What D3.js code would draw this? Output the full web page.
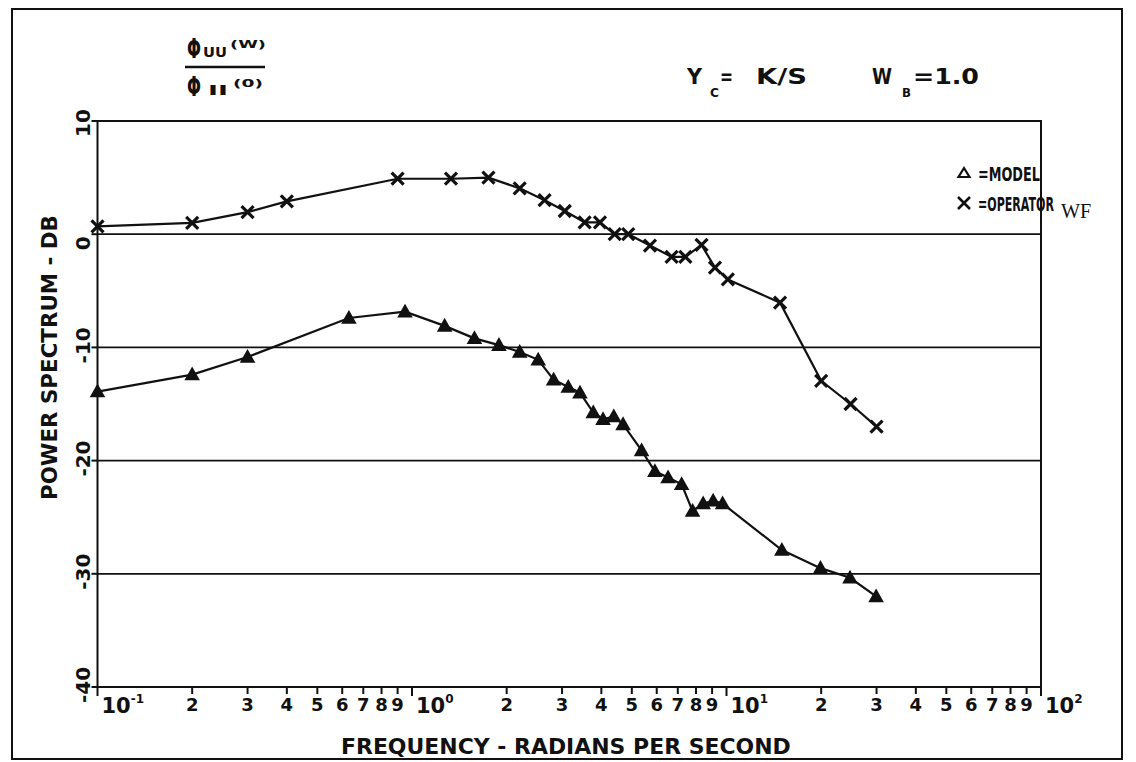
<!DOCTYPE html>
<html>
<head>
<meta charset="utf-8">
<script src="https://cdn.jsdelivr.net/npm/d3@7"></script>
<style>
  body { margin: 0; background: #fff; }
  svg text { font-family: "DejaVu Sans", sans-serif; font-weight: bold; fill: #111; }
</style>
</head>
<body>
<svg id="chart" width="1136" height="762"></svg>
<script>
// Model prediction (triangles): frequency in rad/s, power spectrum in dB
const modelFreq = [0.1, 0.2, 0.3, 0.63, 0.95, 1.27, 1.58, 1.89, 2.2, 2.52, 2.82, 3.14, 3.42, 3.77, 4.05, 4.38, 4.69, 5.37, 5.92, 6.52, 7.2, 7.8, 8.43, 9.07, 9.72, 15.0, 19.9, 24.7, 29.9];
const modelDb   = [-13.9, -12.4, -10.85, -7.4, -6.85, -8.1, -9.2, -9.8, -10.4, -11.1, -12.85, -13.5, -14.0, -15.75, -16.35, -16.1, -16.8, -19.1, -20.95, -21.5, -22.1, -24.45, -23.8, -23.55, -23.8, -27.9, -29.5, -30.35, -32.0];

// Measured operator spectrum (crosses)
const operatorFreq = [0.1, 0.2, 0.3, 0.4, 0.9, 1.33, 1.75, 2.2, 2.64, 3.06, 3.54, 3.96, 4.41, 4.87, 5.71, 6.69, 7.4, 8.33, 9.19, 10.1, 14.8, 20.0, 24.8, 30.0];
const operatorDb   = [0.7, 1.0, 1.95, 2.9, 4.9, 4.9, 5.0, 4.05, 3.0, 2.05, 1.05, 1.05, 0.0, 0.0, -1.0, -2.0, -2.0, -0.95, -2.95, -4.0, -6.05, -12.95, -15.0, -17.0];

// Axis ticks
const dbTicks = [10, 0, -10, -20, -30, -40];
const decadeTicks = [0.1, 1, 10, 100];
const decadeExponents = ["-1", "0", "1", "2"];
const minorDigits = [2, 3, 4, 5, 6, 7, 8, 9];

const svg = d3.select("#chart");
const ink = "#111";

const x = d3.scaleLog().domain([0.1, 100]).range([97.5, 1041]);
const y = d3.scaleLinear().domain([-40, 10]).range([687, 121]);

// text run squeezed or stretched horizontally to a fixed width
function label(parent, px, py, size, str, len, rotate) {
  const t = parent.append("text").attr("font-size", size).text(str);
  const natural = t.node().getComputedTextLength();
  const k = len ? len / natural : 1;
  t.attr("transform", `translate(${px},${py})${rotate ? " rotate(-90)" : ""} scale(${k},1)`);
  return t;
}

// outer border
svg.append("rect").attr("x", 12).attr("y", 9).attr("width", 1110).attr("height", 750)
  .attr("fill", "none").attr("stroke", ink).attr("stroke-width", 2);

// plot box
svg.append("rect").attr("x", x(0.1)).attr("y", y(10))
  .attr("width", x(100) - x(0.1)).attr("height", y(-40) - y(10))
  .attr("fill", "none").attr("stroke", ink).attr("stroke-width", 2);

// horizontal grid lines
svg.append("g").selectAll("line").data(dbTicks.filter(d => d > -40 && d < 10)).join("line")
  .attr("x1", x(0.1)).attr("x2", x(100))
  .attr("y1", d => y(d)).attr("y2", d => y(d))
  .attr("stroke", ink).attr("stroke-width", 1.8);

// y ticks and rotated labels
const yAxis = svg.append("g");
yAxis.selectAll("line").data(dbTicks).join("line")
  .attr("x1", x(0.1) - 6).attr("x2", x(0.1))
  .attr("y1", d => y(d)).attr("y2", d => y(d))
  .attr("stroke", ink).attr("stroke-width", 2);
yAxis.selectAll("text").data(dbTicks).join("text")
  .attr("transform", d => `translate(90,${y(d) + 16}) rotate(-90)`)
  .attr("font-size", 20)
  .text(d => d);

// x ticks: minor digits and decade labels
const minorValues = [];
decadeTicks.slice(0, 3).forEach(dec => minorDigits.forEach(m => minorValues.push({ v: dec * m, m })));
const xAxis = svg.append("g");
xAxis.selectAll("line.minor").data(minorValues).join("line").attr("class", "minor")
  .attr("x1", d => x(d.v)).attr("x2", d => x(d.v))
  .attr("y1", y(-40)).attr("y2", y(-40) + 7)
  .attr("stroke", ink).attr("stroke-width", 2);
xAxis.selectAll("text.minor").data(minorValues).join("text").attr("class", "minor")
  .attr("x", d => x(d.v)).attr("y", y(-40) + 24)
  .attr("text-anchor", "middle").attr("font-size", 18)
  .text(d => d.m);
xAxis.selectAll("line.major").data(decadeTicks).join("line").attr("class", "major")
  .attr("x1", d => x(d)).attr("x2", d => x(d))
  .attr("y1", y(-40)).attr("y2", y(-40) + 9)
  .attr("stroke", ink).attr("stroke-width", 2);
const decLabels = xAxis.selectAll("text.major").data(decadeTicks).join("text").attr("class", "major")
  .attr("x", d => x(d) + 4).attr("y", y(-40) + 26)
  .attr("font-size", 21);
decLabels.append("tspan").text("10");
decLabels.append("tspan").attr("dy", -10).attr("font-size", 12).text((d, i) => decadeExponents[i]);

// axis titles
label(svg, 341, 754, 21, "FREQUENCY - RADIANS PER SECOND", 450);
label(svg, 57, 500, 22, "POWER SPECTRUM - DB", 285, true);

// series lines
const line = d3.line().x(d => x(d[0])).y(d => y(d[1]));
const modelPts = modelFreq.map((f, i) => [f, modelDb[i]]);
const operatorPts = operatorFreq.map((f, i) => [f, operatorDb[i]]);

svg.append("path").datum(modelPts).attr("d", line)
  .attr("fill", "none").attr("stroke", ink).attr("stroke-width", 2.2);
svg.append("path").datum(operatorPts).attr("d", line)
  .attr("fill", "none").attr("stroke", ink).attr("stroke-width", 2.2);

const triPath = "M0,-6.5L6.5,5L-6.5,5Z";
const crossPath = "M-6,-6L6,6M-6,6L6,-6";

svg.append("g").selectAll("path").data(modelPts).join("path")
  .attr("transform", d => `translate(${x(d[0])},${y(d[1])})`)
  .attr("d", triPath).attr("fill", ink).attr("stroke", ink).attr("stroke-width", 1.5);
svg.append("g").selectAll("path").data(operatorPts).join("path")
  .attr("transform", d => `translate(${x(d[0])},${y(d[1])})`)
  .attr("d", crossPath).attr("fill", "none").attr("stroke", ink).attr("stroke-width", 3.2);

// legend
const legend = svg.append("g");
legend.append("path").attr("transform", "translate(964,173)").attr("d", "M0,-5L5.5,4L-5.5,4Z")
  .attr("fill", "none").attr("stroke", ink).attr("stroke-width", 2.2);
label(legend, 978, 181, 19, "=MODEL", 62);
legend.append("path").attr("transform", "translate(964,203)").attr("d", "M-6,-6L6,6M-6,6L6,-6")
  .attr("fill", "none").attr("stroke", ink).attr("stroke-width", 2.6);
label(legend, 978, 211, 19, "=OPERATOR", 76);
label(legend, 1061, 218, 21, "WF", 36)
  .style("font-family", "'Liberation Serif', serif").style("font-weight", "normal");

// header: spectrum ratio
const head = svg.append("g");
label(head, 187, 58, 27, "Φ", 14);
label(head, 203, 57, 14, "UU", 24);
label(head, 230, 48, 11, "(W)", 36);
head.append("line").attr("x1", 185).attr("x2", 265).attr("y1", 67).attr("y2", 67)
  .attr("stroke", ink).attr("stroke-width", 2.5);
label(head, 187, 96, 27, "Φ", 14);
label(head, 208, 95, 14, "II", 20);
label(head, 233, 87, 11, "(0)", 30);

// header: plant and bandwidth
label(head, 687, 84, 22, "Y", 15);
label(head, 710, 97, 13, "C", 9);
label(head, 720, 84, 22, "=", 13);
label(head, 756, 84, 22, "K/S", 51);
label(head, 872, 84, 22, "W", 20);
label(head, 902, 97, 13, "B", 9);
label(head, 913, 84, 22, "=1.0", 66);
</script>
</body>
</html>
